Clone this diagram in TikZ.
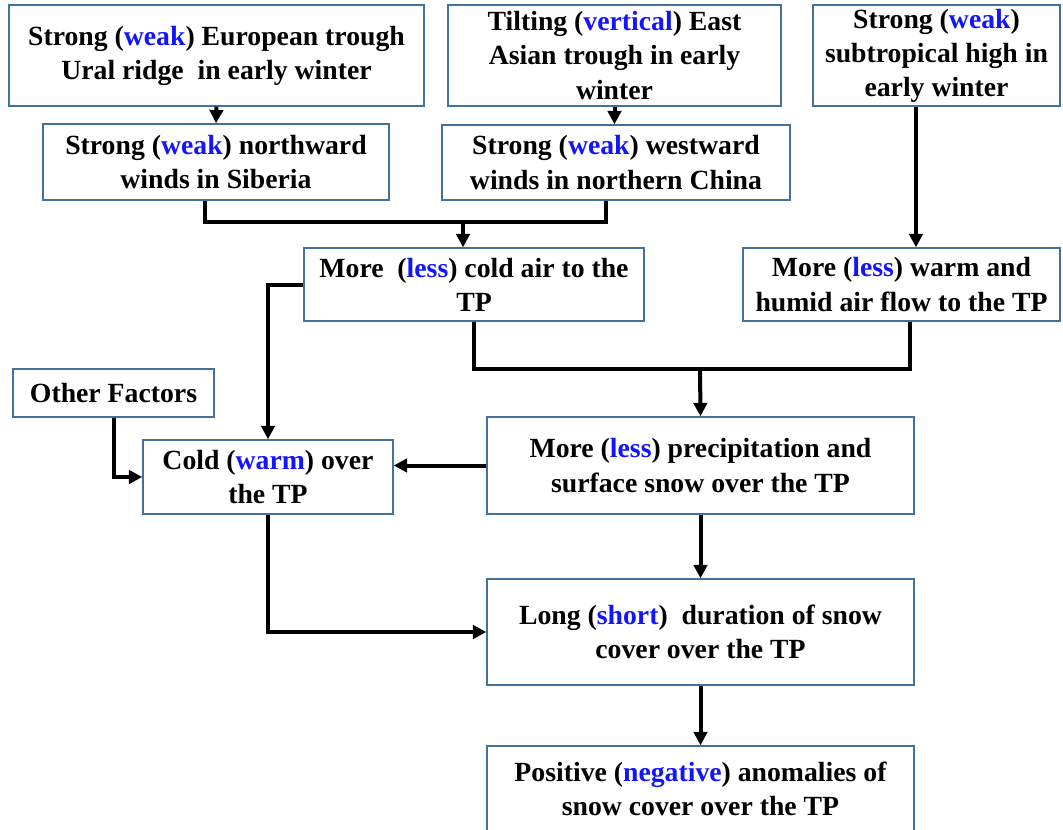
\documentclass[tikz,border=0pt]{standalone}
\usepackage{fontspec}
\setmainfont{Liberation Serif}
\usetikzlibrary{arrows.meta}
\definecolor{boxline}{RGB}{65,113,156}
\definecolor{hl}{RGB}{20,20,255}
\newcommand\hlw[1]{\textcolor{hl}{#1}}
\begin{document}
\begin{tikzpicture}[x=0.75pt,y=-0.75pt,
  box/.style={draw=boxline,line width=1.1pt,fill=white,inner sep=0pt,align=center,
    font=\fontsize{20.8}{25.6}\selectfont\bfseries},
  conn/.style={line width=3pt,line join=miter},
  arr/.style={conn,-{Triangle[length=10pt,width=10pt]}}]
\useasboundingbox (0,0) rectangle (1063,829);
\fill[white] (0,0) rectangle (1063,829);
% boxes
\node[box,minimum width=415*0.75pt,minimum height=101*0.75pt] (A) at (216.5,55.5)
  {Strong (\hlw{weak}) European trough\\Ural ridge~~in early winter};
\node[box,minimum width=346*0.75pt,minimum height=76*0.75pt] (B) at (216,162)
  {Strong (\hlw{weak}) northward\\winds in Siberia};
\node[box,minimum width=333*0.75pt,minimum height=101*0.75pt] (C) at (614.5,55.5)
  {Tilting (\hlw{vertical}) East\\Asian trough in early\\winter};
\node[box,minimum width=348*0.75pt,minimum height=75*0.75pt] (D) at (616,162.5)
  {Strong (\hlw{weak}) westward\\winds in northern China};
\node[box,minimum width=247*0.75pt,minimum height=101*0.75pt] (E) at (936.5,55.5)
  {Strong (\hlw{weak})\\subtropical high in\\early winter};
\node[box,minimum width=340*0.75pt,minimum height=73*0.75pt] (F) at (474,284.5)
  {More~~(\hlw{less}) cold air to the\\TP};
\node[box,minimum width=317*0.75pt,minimum height=73*0.75pt] (G) at (901.5,284.5)
  {More (\hlw{less}) warm and\\humid air flow to the TP};
\node[box,minimum width=201*0.75pt,minimum height=48*0.75pt] (H) at (113.5,393)
  {Other Factors};
\node[box,minimum width=250*0.75pt,minimum height=74*0.75pt] (I) at (268,477)
  {Cold (\hlw{warm}) over\\the TP};
\node[box,minimum width=427*0.75pt,minimum height=97*0.75pt] (J) at (700.5,465.5)
  {More (\hlw{less}) precipitation and\\surface snow over the TP};
\node[box,minimum width=427*0.75pt,minimum height=106*0.75pt] (K) at (700.5,632)
  {Long (\hlw{short})~~duration of snow\\cover over the TP};
\node[box,minimum width=427*0.75pt,minimum height=86*0.75pt] (L) at (700.5,789)
  {Positive (\hlw{negative}) anomalies of\\snow cover over the TP};
% junction points
\coordinate (ja) at (463,222);
\coordinate (jb) at (700,369);
% connectors
\draw[arr] (A.south) -- (B.north);
\draw[arr] (C.south) -- (D.north -| C.south);
\draw[conn] ([xshift=-8.25pt]B.south) |- (ja) -| ([xshift=-7.5pt]D.south);
\draw[arr] (ja) -- (ja |- F.north);
\draw[arr] ([xshift=-15.4pt]E.south) -- ([xshift=-15.4pt]E.south |- G.north);
\draw[arr] (F.west) -| (I.north);
\draw[conn] (F.south) |- (jb) -| ([xshift=6.4pt]G.south);
\draw[arr] (jb) -- (J.north);
\draw[arr] (H.south) |- (I.west);
\draw[arr] (J.west) -- (J.west -| I.east);
\draw[arr] (I.south) |- (K.west);
\draw[arr] (J.south) -- (K.north);
\draw[arr] (K.south) -- (L.north);
\end{tikzpicture}
\end{document}
